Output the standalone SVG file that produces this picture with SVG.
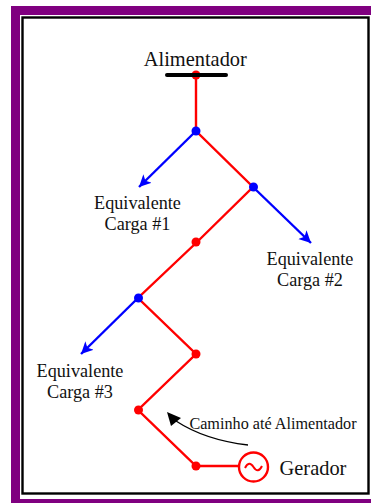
<svg xmlns="http://www.w3.org/2000/svg" width="371" height="504" viewBox="0 0 371 504">
<style>
text{font-family:"Liberation Serif","Times New Roman",serif;fill:#111;text-anchor:middle}
.t{font-size:18.200px}
.r{stroke:#f00;stroke-width:2.400;fill:none}
.b{stroke:#00f;stroke-width:2.400;fill:none}
.rd{fill:#f00}.bd{fill:#00f}
</style>
<defs>
<marker id="ab" markerUnits="userSpaceOnUse" markerWidth="14" markerHeight="14" refX="12" refY="6" orient="auto"><path d="M0 0L12 6L0 12L3 6Z" fill="#00f"/></marker>
</defs>
<rect x="11" y="6" width="360" height="497" fill="#800080"/>
<rect x="20" y="15" width="351" height="484" fill="#fff"/>
<rect x="22.500" y="17.500" width="346" height="476" fill="#fff" stroke="#000" stroke-width="2.400"/>
<g id="connectors">
<path class="r" d="M196 75V131L253 187L196 243L138 298L196 354L138 410L196 466H238"/>
<path class="b" d="M196 131L139 187" marker-end="url(#ab)"/>
<path class="b" d="M253 187L311 243" marker-end="url(#ab)"/>
<path class="b" d="M138 298L81 354" marker-end="url(#ab)"/>
<path d="M248 445Q205 440 176 421" fill="none" stroke="#000" stroke-width="1.300"/>
<path d="M167 412L181 418L171 426Z" fill="#000"/>
</g>
<g id="alimentador"><circle class="rd" cx="196" cy="75" r="4.500"/><path d="M167 75H226" stroke="#000" stroke-width="4" stroke-linecap="round"/><text x="195.300" y="66" style="font-size:20.400px">Alimentador</text></g>
<g id="n1"><circle class="bd" cx="196" cy="131" r="4.500"/></g>
<g id="n2"><circle class="bd" cx="253.500" cy="187" r="4.500"/></g>
<g id="n3"><circle class="rd" cx="196" cy="242" r="4.500"/></g>
<g id="n4"><circle class="bd" cx="138.500" cy="298" r="4.500"/></g>
<g id="n5"><circle class="rd" cx="196" cy="354" r="4.500"/></g>
<g id="n6"><circle class="rd" cx="138.500" cy="410" r="4.500"/></g>
<g id="n7"><circle class="rd" cx="196" cy="466" r="4.500"/></g>
<g id="carga1"><text class="t" x="137.500" y="209">Equivalente</text><text class="t" x="137.500" y="230">Carga #1</text></g>
<g id="carga2"><text class="t" x="310" y="265">Equivalente</text><text class="t" x="310" y="286">Carga #2</text></g>
<g id="carga3"><text class="t" x="80" y="377">Equivalente</text><text class="t" x="80" y="398">Carga #3</text></g>
<g id="caminho"><text x="273" y="429" style="font-size:16.200px">Caminho até Alimentador</text></g>
<g id="gerador"><circle cx="253.500" cy="467" r="14.500" fill="#fff" stroke="#f00" stroke-width="2.400"/><path d="M245 468Q249 460 253.500 467T262 466" fill="none" stroke="#f00" stroke-width="2"/><text x="313" y="475" style="font-size:20.400px">Gerador</text></g>
</svg>
